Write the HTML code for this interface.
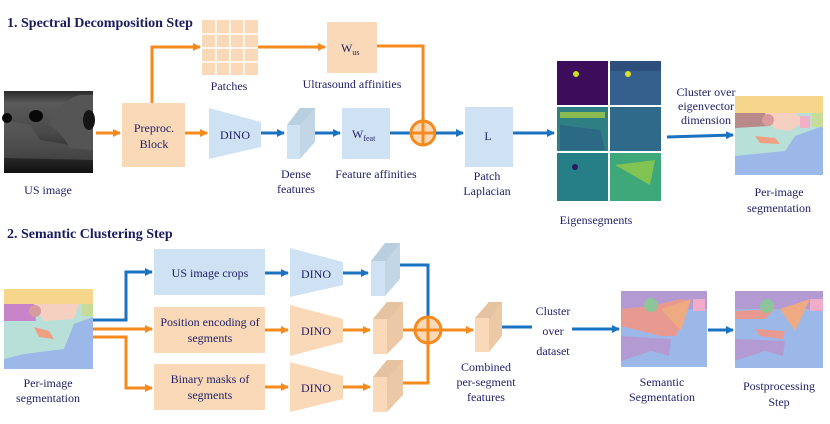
<!DOCTYPE html>
<html><head><meta charset="utf-8"><style>
html,body{margin:0;padding:0;background:#fff;width:830px;height:424px;overflow:hidden}
svg{display:block}
text{font-family:"Liberation Serif",serif;fill:#1e1e66;font-size:12px}
.t{font-weight:bold;font-size:14px;fill:#1a1a5e}
</style></head><body>
<svg width="830" height="424" viewBox="0 0 830 424">
<defs>
<marker id="ao" markerWidth="8" markerHeight="8" refX="7" refY="4" orient="auto" markerUnits="userSpaceOnUse"><path d="M0,0 L8,4 L0,8Z" fill="#f58a1f"/></marker>
<marker id="ab" markerWidth="8" markerHeight="8" refX="7" refY="4" orient="auto" markerUnits="userSpaceOnUse"><path d="M0,0 L8,4 L0,8Z" fill="#1b72c0"/></marker>
<linearGradient id="us" x1="0" y1="0" x2="0" y2="1"><stop offset="0" stop-color="#2a2a2a"/><stop offset="0.15" stop-color="#5a5a5a"/><stop offset="0.5" stop-color="#4a4a4a"/><stop offset="0.75" stop-color="#303030"/><stop offset="1" stop-color="#111"/></linearGradient>
</defs>
<text class="t" x="7" y="27">1. Spectral Decomposition Step</text>
<text class="t" x="7" y="238">2. Semantic Clustering Step</text>

<!-- US image -->
<rect x="4" y="91" width="89" height="82" fill="url(#us)"/>
<path d="M4,120 L30,125 L40,140 L70,145 L93,150 L93,160 L4,158Z" fill="#606060" opacity="0.5"/>
<ellipse cx="36" cy="116" rx="7" ry="6" fill="#080808"/>
<ellipse cx="7" cy="118" rx="5" ry="5" fill="#080808"/>
<path d="M48,125 Q60,100 80,95 L93,95 L93,150 L70,148 Q60,130 48,125Z" fill="#555"/>
<ellipse cx="89" cy="120" rx="6" ry="10" fill="#151515"/>
<text x="48" y="194" text-anchor="middle">US image</text>

<!-- orange top path -->
<polyline points="152,103 152,47 200,47" fill="none" stroke="#f58a1f" stroke-width="3" marker-end="url(#ao)"/>
<line x1="258" y1="47" x2="325" y2="47" stroke="#f58a1f" stroke-width="3" marker-end="url(#ao)"/>
<polyline points="377,46 423,46 423,121" fill="none" stroke="#f58a1f" stroke-width="3"/>
<rect x="202" y="20" width="56" height="55" fill="#fad9b8"/>
<g stroke="#fff" stroke-width="1.5"><line x1="216" y1="20" x2="216" y2="75"/><line x1="230" y1="20" x2="230" y2="75"/><line x1="244" y1="20" x2="244" y2="75"/><line x1="202" y1="34" x2="258" y2="34"/><line x1="202" y1="48" x2="258" y2="48"/><line x1="202" y1="62" x2="258" y2="62"/></g>
<text x="229" y="90" text-anchor="middle">Patches</text>
<rect x="327" y="22" width="50" height="51" fill="#fad9b8"/>
<text x="341" y="52">W<tspan font-size="8" dy="3">us</tspan></text>
<text x="352" y="88" text-anchor="middle">Ultrasound affinities</text>

<line x1="96" y1="133" x2="120" y2="133" stroke="#f58a1f" stroke-width="3" marker-end="url(#ao)"/>
<rect x="122" y="103" width="63" height="64" fill="#fad9b8"/>
<text x="154" y="132" text-anchor="middle">Preproc.</text>
<text x="154" y="148" text-anchor="middle">Block</text>
<line x1="185" y1="133" x2="207" y2="133" stroke="#f58a1f" stroke-width="3" marker-end="url(#ao)"/>
<polygon points="209,108 261,122 261,147 209,159" fill="#cfe2f3"/>
<text x="235" y="139" text-anchor="middle">DINO</text>
<line x1="261" y1="133" x2="284" y2="133" stroke="#1b72c0" stroke-width="3" marker-end="url(#ab)"/>
<polygon points="287,125 300,108 315,108 315,142 300,159 287,159" fill="#c3d6e6"/>
<rect x="287" y="125" width="13" height="34" fill="#cfe2f3"/>
<polygon points="287,125 300,108 315,108 300,125" fill="#b9cfe0"/>
<text x="296" y="178" text-anchor="middle">Dense</text>
<text x="296" y="193" text-anchor="middle">features</text>
<line x1="315" y1="133" x2="340" y2="133" stroke="#1b72c0" stroke-width="3" marker-end="url(#ab)"/>
<rect x="342" y="108" width="48" height="51" fill="#cfe2f3"/>
<text x="352" y="138">W<tspan font-size="8" dy="3">feat</tspan></text>
<text x="376" y="178" text-anchor="middle">Feature affinities</text>
<line x1="390" y1="133" x2="411" y2="133" stroke="#1b72c0" stroke-width="3"/>
<circle cx="423" cy="133" r="12" fill="#fad9b8" stroke="#f58a1f" stroke-width="3"/>
<line x1="411" y1="133" x2="435" y2="133" stroke="#f58a1f" stroke-width="3"/>
<line x1="423" y1="121" x2="423" y2="145" stroke="#f58a1f" stroke-width="3"/>
<line x1="436" y1="133" x2="463" y2="133" stroke="#1b72c0" stroke-width="3" marker-end="url(#ab)"/>
<rect x="465" y="107" width="48" height="60" fill="#cfe2f3"/>
<text x="488" y="140" text-anchor="middle">L</text>
<text x="487" y="180" text-anchor="middle">Patch</text>
<text x="487" y="195" text-anchor="middle">Laplacian</text>
<line x1="513" y1="133" x2="554" y2="133" stroke="#1b72c0" stroke-width="3" marker-end="url(#ab)"/>

<!-- eigensegments -->
<rect x="557" y="61" width="51" height="44" fill="#3b0d5a"/>
<rect x="610" y="61" width="51" height="44" fill="#355f8c"/>
<rect x="557" y="107" width="51" height="44" fill="#2e7f83"/>
<rect x="610" y="107" width="51" height="44" fill="#2f6a8a"/>
<rect x="557" y="153" width="51" height="48" fill="#267f86"/>
<rect x="610" y="153" width="51" height="48" fill="#3ea87a"/>
<rect x="610" y="61" width="51" height="10" fill="#2e4f7c"/>
<circle cx="576" cy="74" r="3" fill="#c7e020"/><circle cx="628" cy="74" r="3" fill="#e0e030"/>
<rect x="560" y="112" width="45" height="6" fill="#b4d43a" opacity="0.7"/>
<path d="M560,125 L600,130 L605,150 L560,150Z" fill="#2a5a85" opacity="0.6"/>
<path d="M615,165 L655,160 L650,185 Z" fill="#9fd040" opacity="0.7"/>
<circle cx="575" cy="167" r="3" fill="#2a1a5a"/>
<text x="596" y="224" text-anchor="middle">Eigensegments</text>
<text x="706" y="96" text-anchor="middle" font-size="11">Cluster over</text>
<text x="706" y="110" text-anchor="middle" font-size="11">eigenvector</text>
<text x="706" y="124" text-anchor="middle" font-size="11">dimension</text>
<line x1="667" y1="137" x2="733" y2="135" stroke="#1b72c0" stroke-width="3" marker-end="url(#ab)"/>

<g transform="translate(735,96)">
<rect width="88" height="79" fill="#9cb8e8"/>
<rect width="88" height="17" fill="#f5d68a"/>
<path d="M0,17 L88,17 L88,30 L60,40 L50,55 L20,58 L0,60Z" fill="#b8e0d8"/>
<path d="M0,17 L30,17 L35,30 L0,32Z" fill="#b88a8a"/>
<path d="M30,17 L60,17 L70,25 L55,35 L40,33Z" fill="#f5d0c0"/>
<circle cx="33" cy="24" r="6" fill="#d89a9a"/>
<path d="M20,40 L40,42 L45,48 L25,47Z" fill="#f0a080"/>
<rect x="77" y="17" width="11" height="14" fill="#c8dc9a"/>
<rect x="65" y="20" width="10" height="12" fill="#f2b0c8"/>
</g>
<text x="779" y="196" text-anchor="middle">Per-image</text>
<text x="779" y="212" text-anchor="middle">segmentation</text>

<g transform="translate(4,289)">
<rect width="89" height="80" fill="#9cb8e8"/>
<rect width="89" height="15" fill="#f5d68a"/>
<path d="M0,15 L89,15 L89,28 L70,35 L60,60 L20,65 L0,70Z" fill="#b8e0d8"/>
<path d="M0,15 L30,15 L32,32 L0,32Z" fill="#c884c8"/>
<path d="M30,15 L75,15 L70,30 L40,32Z" fill="#f5d0c0"/>
<circle cx="31" cy="22" r="6" fill="#d89a9a"/>
<path d="M30,38 L45,42 L50,50 L35,48Z" fill="#f0a080"/>
<rect x="78" y="15" width="11" height="12" fill="#c8dc9a"/>
</g>
<text x="48" y="387" text-anchor="middle">Per-image</text>
<text x="48" y="402" text-anchor="middle">segmentation</text>

<polyline points="93,320 126,320 126,272 152,272" fill="none" stroke="#1b72c0" stroke-width="3" marker-end="url(#ab)"/>
<line x1="93" y1="329" x2="152" y2="329" stroke="#f58a1f" stroke-width="3" marker-end="url(#ao)"/>
<polyline points="93,337 126,337 126,388 152,388" fill="none" stroke="#f58a1f" stroke-width="3" marker-end="url(#ao)"/>

<rect x="154" y="249" width="111" height="46" fill="#cfe2f3"/>
<text x="210" y="277" text-anchor="middle">US image crops</text>
<rect x="154" y="307" width="111" height="46" fill="#fad9b8"/>
<text x="210" y="326" text-anchor="middle">Position encoding of</text>
<text x="210" y="342" text-anchor="middle">segments</text>
<rect x="154" y="364" width="111" height="46" fill="#fad9b8"/>
<text x="210" y="383" text-anchor="middle">Binary masks of</text>
<text x="210" y="399" text-anchor="middle">segments</text>

<line x1="265" y1="273" x2="288" y2="273" stroke="#1b72c0" stroke-width="3" marker-end="url(#ab)"/>
<line x1="265" y1="330" x2="288" y2="330" stroke="#f58a1f" stroke-width="3" marker-end="url(#ao)"/>
<line x1="265" y1="387" x2="288" y2="387" stroke="#f58a1f" stroke-width="3" marker-end="url(#ao)"/>
<polygon points="290,248 343,262 343,285 290,297" fill="#cfe2f3"/>
<polygon points="290,305 343,319 343,342 290,356" fill="#fad9b8"/>
<polygon points="290,362 343,376 343,399 290,412" fill="#fad9b8"/>
<text x="316" y="278" text-anchor="middle">DINO</text>
<text x="316" y="335" text-anchor="middle">DINO</text>
<text x="316" y="392" text-anchor="middle">DINO</text>
<line x1="343" y1="273" x2="368" y2="273" stroke="#1b72c0" stroke-width="3" marker-end="url(#ab)"/>
<line x1="343" y1="330" x2="370" y2="330" stroke="#f58a1f" stroke-width="3" marker-end="url(#ao)"/>
<line x1="343" y1="387" x2="370" y2="387" stroke="#f58a1f" stroke-width="3" marker-end="url(#ao)"/>

<polygon points="371,261 385,243 400,243 400,279 385,296 371,296" fill="#c3d6e6"/>
<rect x="371" y="261" width="14" height="35" fill="#cfe2f3"/>
<polygon points="371,261 385,243 400,243 386,261" fill="#b9cfe0"/>
<polygon points="373,319 387,302 403,302 403,338 387,354 373,354" fill="#ecc9a6"/>
<rect x="373" y="319" width="14" height="35" fill="#fad9b8"/>
<polygon points="373,319 387,302 403,302 389,319" fill="#e6c3a0"/>
<polygon points="373,377 387,360 403,360 403,395 387,412 373,412" fill="#ecc9a6"/>
<rect x="373" y="377" width="14" height="35" fill="#fad9b8"/>
<polygon points="373,377 387,360 403,360 389,377" fill="#e6c3a0"/>

<polyline points="400,265 428,265 428,317" fill="none" stroke="#1b72c0" stroke-width="3"/>
<polyline points="403,383 428,383 428,343" fill="none" stroke="#f58a1f" stroke-width="3"/>
<line x1="403" y1="330" x2="415" y2="330" stroke="#f58a1f" stroke-width="3"/>
<circle cx="428" cy="330" r="13" fill="#fad9b8" stroke="#f58a1f" stroke-width="3"/>
<line x1="415" y1="330" x2="441" y2="330" stroke="#f58a1f" stroke-width="3"/>
<line x1="428" y1="317" x2="428" y2="343" stroke="#f58a1f" stroke-width="3"/>
<line x1="441" y1="330" x2="473" y2="330" stroke="#f58a1f" stroke-width="3" marker-end="url(#ao)"/>
<polygon points="475,318 489,302 502,302 502,336 489,352 475,352" fill="#ecc9a6"/>
<rect x="475" y="318" width="14" height="34" fill="#fad9b8"/>
<polygon points="475,318 489,302 502,302 490,318" fill="#e6c3a0"/>
<text x="486" y="371" text-anchor="middle">Combined</text>
<text x="486" y="386" text-anchor="middle">per-segment</text>
<text x="486" y="401" text-anchor="middle">features</text>
<line x1="502" y1="327" x2="532" y2="327" stroke="#1b72c0" stroke-width="3"/>
<text x="553" y="315" text-anchor="middle">Cluster</text>
<text x="553" y="335" text-anchor="middle">over</text>
<text x="553" y="355" text-anchor="middle">dataset</text>
<line x1="572" y1="329" x2="619" y2="329" stroke="#1b72c0" stroke-width="3" marker-end="url(#ab)"/>

<g transform="translate(621,291)">
<rect width="86" height="76" fill="#9cb8e8"/>
<rect width="86" height="18" fill="#b49ad2"/>
<path d="M0,18 L30,15 L60,8 L70,10 L55,45 L40,45 L20,40 L0,35Z" fill="#e99a90"/>
<path d="M40,18 L70,8 L60,40Z" fill="#eeaa80"/>
<circle cx="30" cy="14" r="7" fill="#8dc49a"/>
<path d="M0,45 L50,48 L48,65 L30,60 L0,70Z" fill="#b49ad2"/>
<rect x="72" y="8" width="12" height="12" fill="#f0acc8"/>
</g>
<text x="662" y="386" text-anchor="middle">Semantic</text>
<text x="662" y="401" text-anchor="middle">Segmentation</text>
<line x1="708" y1="330" x2="733" y2="330" stroke="#1b72c0" stroke-width="3" marker-end="url(#ab)"/>
<g transform="translate(735,291)">
<rect width="88" height="77" fill="#9cb8e8"/>
<rect width="88" height="18" fill="#b49ad2"/>
<path d="M0,20 L40,18 L30,28 L0,28Z" fill="#e99a90"/>
<path d="M45,18 L75,8 L60,40Z" fill="#eeaa80"/>
<circle cx="32" cy="15" r="7" fill="#8dc49a"/>
<path d="M20,38 L50,40 L48,48 L25,45Z" fill="#e99a90"/>
<path d="M0,48 L50,50 L48,65 L30,60 L0,70Z" fill="#b49ad2"/>
<rect x="75" y="8" width="13" height="12" fill="#f0acc8"/>
</g>
<text x="779" y="390" text-anchor="middle">Postprocessing</text>
<text x="779" y="406" text-anchor="middle">Step</text>
</svg>
</body></html>
